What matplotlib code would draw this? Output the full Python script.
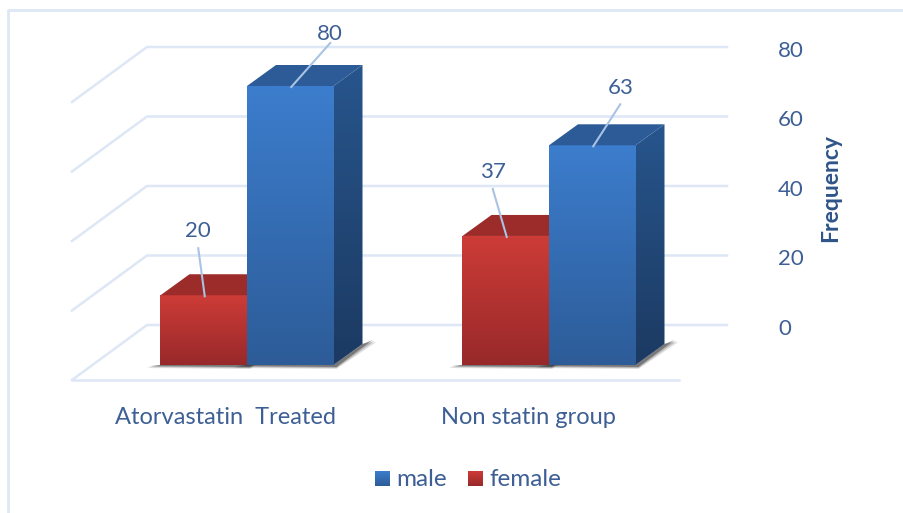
import numpy as np
import matplotlib
matplotlib.use('Agg')
import matplotlib.pyplot as plt
from matplotlib.colors import LinearSegmentedColormap
from matplotlib.patches import Polygon

groups = ['Atorvastatin  Treated', 'Non statin group']
male = [80, 63]
female = [20, 37]
yticks = [0, 20, 40, 60, 80]

W, H = 904, 513
BASE_PX = 365      # pixel row of value 0 on the front plane
PX_PER_VAL = 3.4875
PX_PER_CAT = 302
CAT0_PX = 247

plt.rcParams['font.family'] = ['Lato', 'DejaVu Sans']
text_col = '#3d5f95'
grid_col = '#dde7f5'

fig = plt.figure(figsize=(W / 100, H / 100), dpi=100)
ax = fig.add_axes([0, 0, 1, 1])
ax.axis('off')

# px offsets expressed in data units
def dx(p):
    return p / PX_PER_CAT
def dy(p):
    return p / PX_PER_VAL

bar_w = dx(86.5)
depth_x, depth_y = dx(29), dy(21)

# back wall and side wall grid
wall_x0, wall_x1 = dx(147 - CAT0_PX), dx(727 - CAT0_PX)
back_y = dy(40)
side_x, side_y = dx(-75), dy(-55)
for v in yticks:
    yy = v * (278 / 279) + back_y
    ax.plot([wall_x0 + side_x, wall_x0, wall_x1], [yy + side_y, yy, yy],
            color=grid_col, lw=1.8, zorder=1, solid_joinstyle='miter')
    ax.text(dx(778 - CAT0_PX), yy - dy(4), str(v), color=text_col, fontsize=16,
            va='center', ha='left')
# floor front edge
ax.plot([wall_x0 + side_x, dx(679 - CAT0_PX)], [back_y + side_y] * 2, color=grid_col, lw=1.8, zorder=1)


def gradient_fill(poly_xy, c_top, c_bottom, zorder):
    cmap = LinearSegmentedColormap.from_list('g', [c_top, c_bottom])
    poly_xy = np.array(poly_xy)
    patch = Polygon(poly_xy, closed=True, fc='none', ec='none', zorder=zorder)
    ax.add_patch(patch)
    grad = np.linspace(0, 1, 128).reshape(-1, 1)
    im = ax.imshow(grad, cmap=cmap, aspect='auto', zorder=zorder, interpolation='bilinear',
                   extent=[poly_xy[:, 0].min(), poly_xy[:, 0].max(),
                           poly_xy[:, 1].min(), poly_xy[:, 1].max()], origin='upper')
    im.set_clip_path(patch)


def bar3d(x0, val, front, side, top, z):
    x1 = x0 + bar_w
    # soft floor shadow, a few stacked layers
    for g, a in ((4, 0.15), (2, 0.25), (0, 0.45)):
        ax.add_patch(Polygon([(x0 - dx(10 + g), dy(-1 - g / 2)), (x1 + dx(3), dy(-2 - g / 2)),
                              (x1 + depth_x + dx(10 + g), depth_y + dy(4 - g / 2)),
                              (x1 + depth_x, depth_y), (x1, 0), (x0, 0)],
                             closed=True, fc='#303030', ec='none', alpha=a, zorder=z - 1))
    gradient_fill([(x0, 0), (x1, 0), (x1, val), (x0, val)], front[0], front[1], z)
    gradient_fill([(x1, 0), (x1 + depth_x, depth_y), (x1 + depth_x, val + depth_y), (x1, val)],
                  side[0], side[1], z)
    ax.add_patch(Polygon([(x0, val), (x1, val), (x1 + depth_x, val + depth_y), (x0 + depth_x, val + depth_y)],
                         closed=True, fc=top, ec='none', zorder=z))


red = (('#cd3c37', '#98292a'), ('#8a2525', '#8a2525'), '#9b2c2a')
blue = (('#3c7dcd', '#2d5c98'), ('#27558c', '#1c3a62'), '#2c5b98')

for i in range(len(groups)):
    bar3d(i - bar_w, female[i], red[0], red[1], red[2], 3 + i * 4)
    bar3d(i, male[i], blue[0], blue[1], blue[2], 5 + i * 4)

# leader lines and data labels, px offsets from the top of the bar front:
# line end x, line end y, label centre y
label_off = {
    'female': [(-5.5, 47, 64), (-13, 47, 64)],
    'male': [(40, 43, 52), (28, 41, 57)],
}
for i in range(len(groups)):
    for name, vals, xc in (('female', female, i - bar_w / 2), ('male', male, i + bar_w / 2)):
        ox, oy, ty = label_off[name][i]
        v = vals[i]
        ax.plot([xc + dx(1), xc + dx(ox)], [v - dy(1), v + dy(oy)], color='#a8c3e3', lw=1.5, zorder=20)
        ax.text(xc + dx(ox), v + dy(ty), str(v), color=text_col, fontsize=16,
                ha='center', va='center', zorder=21)

# category labels
ax.text(0 - dx(21), dy(365 - 417), groups[0], color=text_col, fontsize=17, ha='center', va='center')
ax.text(1 - dx(21), dy(365 - 417), groups[1], color=text_col, fontsize=17, ha='center', va='center')

ax.text(dx(831 - CAT0_PX), dy(365 - 188), 'Frequency', color='#2f5488', fontsize=16.5, fontweight='bold',
        rotation=90, ha='center', va='center')

# legend
for x_px, name, c in ((375, 'male', ('#3c7dcd', '#2d5c98')), (468, 'female', ('#cd3c37', '#98292a'))):
    l = dx(x_px - CAT0_PX)
    b = dy(365 - 486)
    gradient_fill([(l, b), (l + dx(15), b), (l + dx(15), b + dy(15)), (l, b + dy(15))], c[0], c[1], 3)
    ax.text(l + dx(21), b + dy(7), name, color=text_col, fontsize=17.5, ha='left', va='center')

# chart frame
ax.plot([dx(8 - CAT0_PX), dx(8 - CAT0_PX), dx(904 - CAT0_PX)], [dy(365 - 513), dy(365 - 10), dy(365 - 10)],
        color=grid_col, lw=2, zorder=1)

ax.set_xlim(-CAT0_PX / PX_PER_CAT, (W - CAT0_PX) / PX_PER_CAT)
ax.set_ylim((BASE_PX - H) / PX_PER_VAL, BASE_PX / PX_PER_VAL)
fig.savefig('out.png', dpi=100)
